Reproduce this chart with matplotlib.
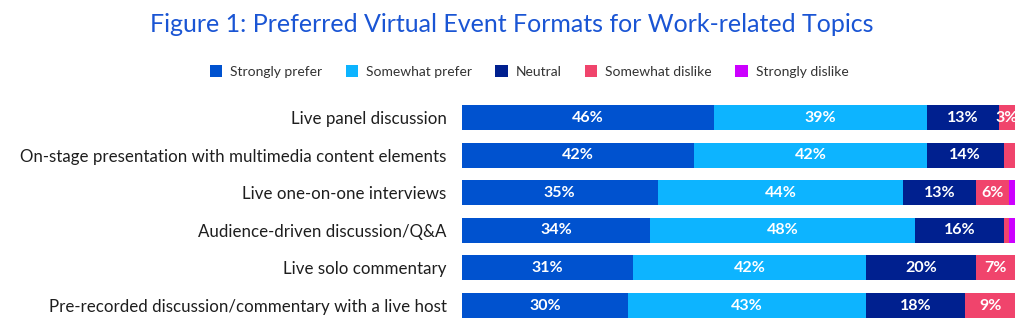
import matplotlib
matplotlib.use("Agg")
import matplotlib.pyplot as plt
from matplotlib.patches import Patch
import numpy as np

categories = [
    "Live panel discussion",
    "On-stage presentation with multimedia content elements",
    "Live one-on-one interviews",
    "Audience-driven discussion/Q&A",
    "Live solo commentary",
    "Pre-recorded discussion/commentary with a live host",
]
series_names = ["Strongly prefer", "Somewhat prefer", "Neutral", "Somewhat dislike", "Strongly dislike"]
strongly_prefer = [46, 42, 35, 34, 31, 30]
somewhat_prefer = [39, 42, 44, 48, 42, 43]
neutral = [13, 14, 13, 16, 20, 18]
somewhat_dislike = [3, 2, 6, 1, 7, 9]
strongly_dislike = [0, 0, 1, 1, 0, 0]
colors = ["#0052CF", "#0DB4FF", "#00208F", "#F0446C", "#CC00FF"]
title = "Figure 1: Preferred Virtual Event Formats for Work-related Topics"

plt.rcParams['font.family'] = ['Lato', 'DejaVu Sans']

W, H = 1024, 323
fig = plt.figure(figsize=(W / 100, H / 100), dpi=100)

top_px, bot_px = 98.7, 323
left_px, right_px = 462, 1015
ax = fig.add_axes([left_px / W, 1 - bot_px / H, (right_px - left_px) / W, (bot_px - top_px) / H])

data = np.array([strongly_prefer, somewhat_prefer, neutral, somewhat_dislike, strongly_dislike], dtype=float)
totals = data.sum(axis=0)
shares = data / totals * 100
y = np.arange(len(categories))
left = np.zeros(len(categories))
for i, name in enumerate(series_names):
    bars = ax.barh(y, shares[i], left=left, height=0.665, color=colors[i], label=name, edgecolor="none")
    for j, b in enumerate(bars):
        v = data[i][j]
        if v >= 3:
            ax.text(left[j] + shares[i][j] / 2, y[j], f"{int(v)}%", ha="center", va="center",
                    color="white", fontsize=11.5, fontweight="bold")
    left += shares[i]

ax.set_xlim(0, 100)
ax.set_ylim(5.465, -0.5)
ax.set_yticks(y)
ax.set_yticklabels(categories, fontsize=12.2, color="#1E1E1E")
ax.tick_params(axis="y", length=0, pad=11)
ax.set_xticks([])
for s in ax.spines.values():
    s.set_visible(False)

fig.text(0.5, 1 - 24 / H, title, ha="center", va="center", fontsize=18, color="#1A55D4")

handles = [Patch(facecolor=c, edgecolor="none") for c in colors]
fig.legend(handles, series_names, ncol=5, loc="center", bbox_to_anchor=(529 / W, 1 - 71.5 / H),
           frameon=False, fontsize=10, handlelength=0.9, handleheight=0.9, handletextpad=0.55,
           columnspacing=1.7, labelcolor="#333333")

fig.savefig("out.png", dpi=100)
